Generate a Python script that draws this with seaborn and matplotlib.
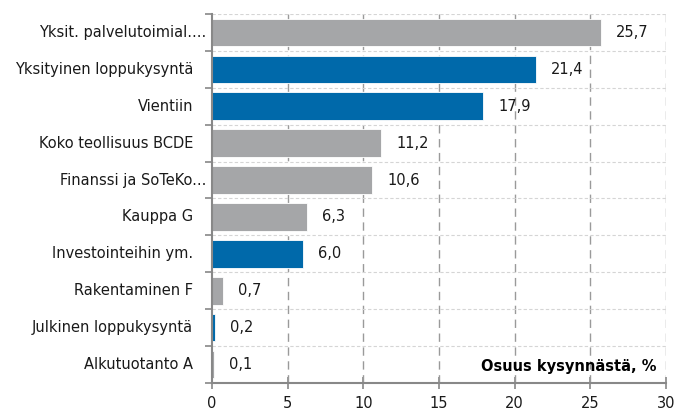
import matplotlib
matplotlib.use("Agg")
import matplotlib.pyplot as plt
import matplotlib.transforms as mtransforms
import seaborn as sns
import pandas as pd
import numpy as np
from matplotlib.ticker import FixedLocator

categories = ["Yksit. palvelutoimial....", "Yksityinen loppukysyntä", "Vientiin",
              "Koko teollisuus BCDE", "Finanssi ja SoTeKo...", "Kauppa G",
              "Investointeihin ym.", "Rakentaminen F", "Julkinen loppukysyntä",
              "Alkutuotanto A"]
values = [25.7, 21.4, 17.9, 11.2, 10.6, 6.3, 6.0, 0.7, 0.2, 0.1]
groups = ["toimiala", "kysyntä", "kysyntä", "toimiala", "toimiala", "toimiala",
          "kysyntä", "toimiala", "kysyntä", "toimiala"]
value_labels = ["25,7", "21,4", "17,9", "11,2", "10,6", "6,3", "6,0", "0,7", "0,2", "0,1"]
x_ticks = [0, 5, 10, 15, 20, 25, 30]
annotation = "Osuus kysynnästä, %"

GRAY = "#A5A6A8"
BLUE = "#0069AA"

df = pd.DataFrame({"cat": categories, "val": values, "grp": groups})

sns.set_theme(style="white")
plt.rcParams['font.family'] = ['DejaVu Sans']

fig = plt.figure(figsize=(6.88, 4.12), dpi=100)
ax = fig.add_axes([212/688, 1-383/412, (666-212)/688, (383-14)/412])

sns.barplot(data=df, y="cat", x="val", hue="grp", dodge=False, orient="h",
            palette={"toimiala": GRAY, "kysyntä": BLUE}, saturation=1, width=0.75,
            edgecolor="white", linewidth=0.6, legend=False, ax=ax, zorder=3)

ax.set_xlim(0, 30)
ax.set_ylim(len(categories) - 0.5, -0.5)
ax.set_xlabel("")
ax.set_ylabel("")

# grid
ax.xaxis.set_major_locator(FixedLocator(x_ticks))
for x in x_ticks[1:]:
    ax.axvline(x, color="#9A9A9A", lw=1.0, ls=(0, (6, 4)), zorder=1)
bounds = np.arange(-0.5, len(categories), 1.0)
for b in bounds[:-1]:
    ax.axhline(b, color="#D5D5D5", lw=0.8, ls=(0, (3, 2)), zorder=1)

ax.yaxis.set_minor_locator(FixedLocator(bounds))
ax.tick_params(axis="y", which="major", length=0, labelleft=False)
ax.tick_params(axis="y", which="minor", length=5, width=1.2, color="#888888", direction="out", left=True)
ax.tick_params(axis="x", which="major", length=8, width=1.2, color="#888888", direction="inout",
               bottom=True, pad=5, labelsize=10.5, labelcolor="#1a1a1a")

# category labels (names ending with an ellipsis sit closer to the axis)
for i, c in enumerate(categories):
    dx = -6 if c.endswith("...") else -19
    tr = ax.get_yaxis_transform() + mtransforms.ScaledTranslation(dx / 100, 0, fig.dpi_scale_trans)
    ax.text(0, i, c, transform=tr, ha="right", va="center", fontsize=10.5, color="#1a1a1a")

for s in ["top", "right"]:
    ax.spines[s].set_visible(False)
ax.spines["left"].set_color("#888888")
ax.spines["left"].set_linewidth(1.5)
ax.spines["bottom"].set_color("#888888")
ax.spines["bottom"].set_linewidth(1.5)
ax.spines["left"].set_zorder(4)
ax.spines["bottom"].set_zorder(4)

for i, (v, lab) in enumerate(zip(values, value_labels)):
    ax.text(v + 1.0, i, lab, va="center", ha="left", fontsize=10.5, color="#1a1a1a", zorder=5)

ax.text(29.4, 9.05, annotation, ha="right", va="center", fontsize=10.5,
        fontweight="bold", color="black", zorder=5)

fig.savefig("out.png", dpi=100)
